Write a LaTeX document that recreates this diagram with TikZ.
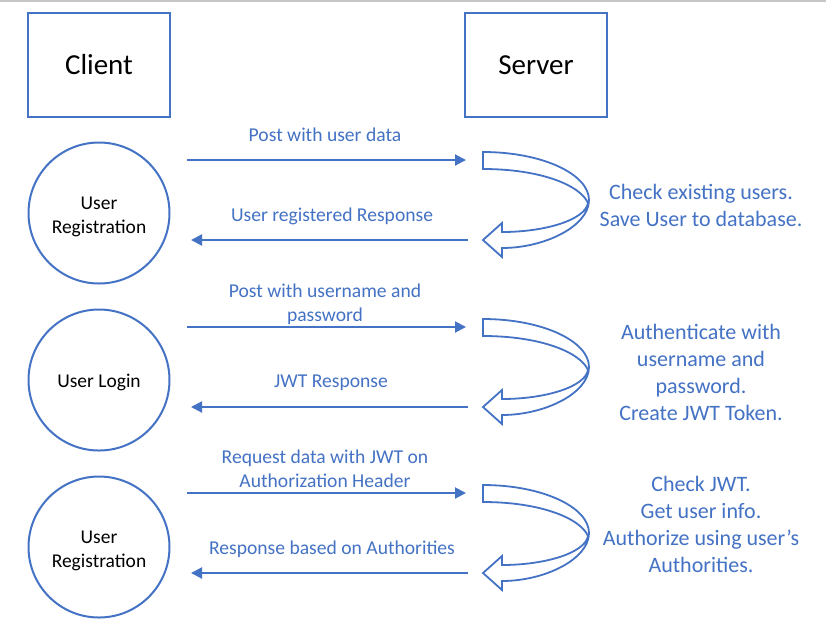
\documentclass[tikz,border=0pt]{standalone}
\usepackage{fontspec}
\setmainfont{Carlito}
\usetikzlibrary{arrows.meta}
\definecolor{ofblue}{HTML}{4472C4}
\tikzset{
  titlebox/.style={draw=ofblue, line width=2pt, minimum width=142pt, minimum height=104pt, inner sep=0pt, font={\fontsize{29}{35}\selectfont}, text=black},
  actor/.style={draw=ofblue, line width=2pt, circle, minimum size=141pt, inner sep=0pt},
  actortext/.style={align=center, inner sep=0pt, font={\fontsize{19.5}{24}\selectfont}, text=black},
  msg/.style={draw=ofblue, line width=2pt, -{Triangle[length=11pt,width=11pt]}},
  msglabel/.style={text=ofblue, align=center, inner sep=0pt, font={\fontsize{19.6}{24}\selectfont}},
  sidetext/.style={text=ofblue, align=center, inner sep=0pt, font={\fontsize{22}{26.8}\selectfont}},
  uturn/.style={draw=ofblue, fill=white, line width=1.8pt, line join=miter}
}
\newcommand{\uturnshape}{%
  \path[uturn] (483,152) .. controls (542,152) and (589,174) .. (589,200)
    .. controls (589,226) and (545,248) .. (502,248)
    -- (502,257) -- (483,240) -- (502,223) -- (502,232)
    .. controls (545,232) and (585,220) .. (588,203)
    .. controls (580,185) and (540,169) .. (483,169) -- cycle;}
\begin{document}
\begin{tikzpicture}[x=1pt,y=-1pt]
\useasboundingbox (0,0) rectangle (826,633);
\fill[white] (0,0) rectangle (826,633);
\draw[gray!45, line width=1.5pt] (0,0.75) -- (826,0.75);

\node[titlebox] (client) at (99,65) {Client};
\node[titlebox] (server) at (536,65) {Server};

\node[actor] (reg1) at (99,213) {};
\node[actortext] (reg1t) at (99,217) {User\\Registration};
\node[actor] (login) at (99,380) {};
\node[actortext] (logint) at (99,382) {User Login};
\node[actor] (reg2) at (99,547) {};
\node[actortext] (reg2t) at (99,551) {User\\Registration};

% pair 1
\coordinate (a1s) at (187,160); \coordinate (a1e) at (466,160);
\coordinate (b1s) at (468,240); \coordinate (b1e) at (191,240);
\draw[msg] (a1s) -- (a1e);
\draw[msg] (b1s) -- (b1e);
\node[msglabel] (l1a) at (325,135) {Post with user data};
\node[msglabel] (l1b) at (332,216) {User registered Response};
\uturnshape
\node[sidetext] (s1) at (701,205.5) {Check existing users.\\Save User to database.};

% pair 2
\coordinate (a2s) at (187,327); \coordinate (a2e) at (466,327);
\coordinate (b2s) at (468,407); \coordinate (b2e) at (191,407);
\draw[msg] (a2s) -- (a2e);
\draw[msg] (b2s) -- (b2e);
\node[msglabel] (l2a) at (325,304) {Post with username and\\password};
\node[msglabel] (l2b) at (331,382.5) {JWT Response};
\begin{scope}[yshift=-167pt]\uturnshape\end{scope}
\node[sidetext] (s2) at (701,372.5) {Authenticate with\\username and\\password.\\Create JWT Token.};

% pair 3
\coordinate (a3s) at (187,493); \coordinate (a3e) at (466,493);
\coordinate (b3s) at (468,573); \coordinate (b3e) at (191,573);
\draw[msg] (a3s) -- (a3e);
\draw[msg] (b3s) -- (b3e);
\node[msglabel] (l3a) at (325,469) {Request data with JWT on\\Authorization Header};
\node[msglabel] (l3b) at (332,549) {Response based on Authorities};
\begin{scope}[yshift=-333pt]\uturnshape\end{scope}
\node[sidetext] (s3) at (701,524.5) {Check JWT.\\Get user info.\\Authorize using user’s\\Authorities.};
\end{tikzpicture}
\end{document}
